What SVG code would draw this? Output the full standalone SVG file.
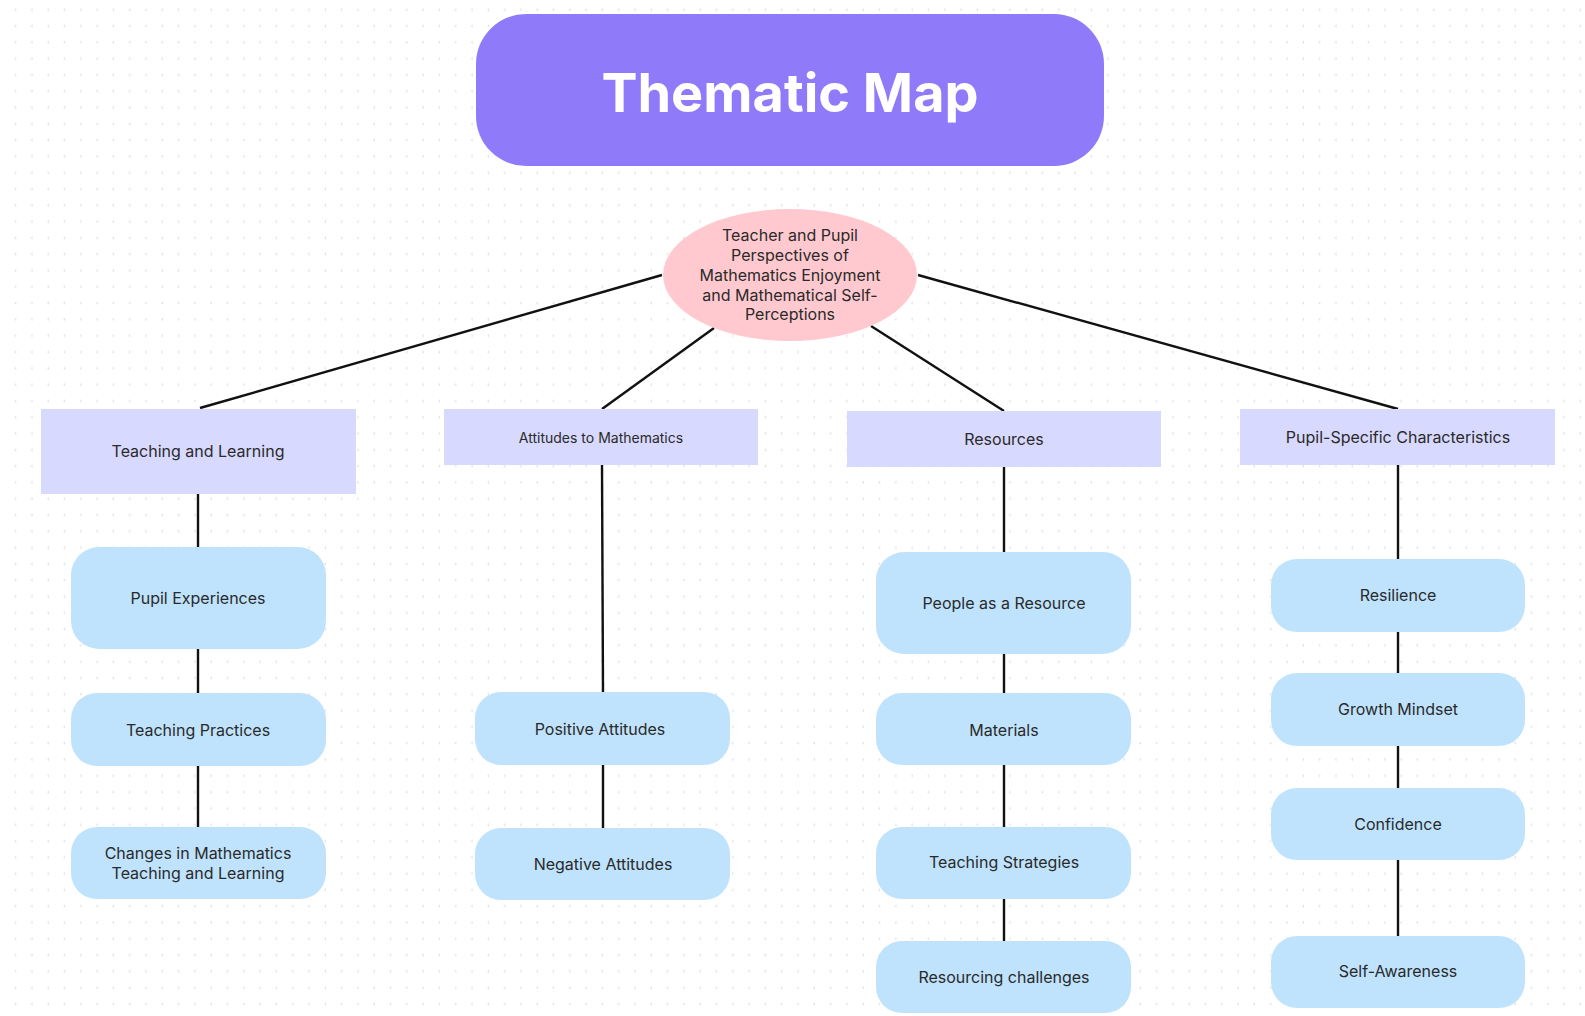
<svg xmlns="http://www.w3.org/2000/svg" width="1585" height="1016" viewBox="0 0 1585 1016">
<defs>
<pattern id="dots" x="0" y="0" width="16.3" height="16.3" patternUnits="userSpaceOnUse">
<path d="M16.3 8.2v3M14.8 9.7h3" stroke="#dcdcdc" stroke-width="1"/>
</pattern>
<style>
.t{font-family:Inter,"Noto Sans","Liberation Sans",sans-serif;fill:#2a2a2a;text-anchor:middle;dominant-baseline:central}
.s16{font-size:16px}
.s14{font-size:14px}
.l1{fill:#d8d9fe}
.l2{fill:#bfe3fd}
.c{stroke:#111;stroke-width:2.4;fill:none}
</style>
</defs>
<rect width="1585" height="1016" fill="#ffffff"/>
<rect width="1585" height="1016" fill="url(#dots)"/>

<g id="connectors">
<line class="c" x1="662" y1="275" x2="200" y2="408"/>
<line class="c" x1="714" y1="328" x2="602" y2="409"/>
<line class="c" x1="871" y1="326" x2="1004" y2="411"/>
<line class="c" x1="918" y1="275" x2="1398" y2="409"/>
<line class="c" x1="198" y1="494" x2="198" y2="547"/>
<line class="c" x1="198" y1="649" x2="198" y2="693"/>
<line class="c" x1="198" y1="766" x2="198" y2="827"/>
<line class="c" x1="602" y1="465" x2="603" y2="692"/>
<line class="c" x1="603" y1="765" x2="603" y2="828"/>
<line class="c" x1="1004" y1="467" x2="1004" y2="552"/>
<line class="c" x1="1004" y1="654" x2="1004" y2="693"/>
<line class="c" x1="1004" y1="765" x2="1004" y2="827"/>
<line class="c" x1="1004" y1="899" x2="1004" y2="941"/>
<line class="c" x1="1398" y1="465" x2="1398" y2="559"/>
<line class="c" x1="1398" y1="632" x2="1398" y2="673"/>
<line class="c" x1="1398" y1="746" x2="1398" y2="788"/>
<line class="c" x1="1398" y1="860" x2="1398" y2="936"/>
</g>

<g id="title">
<rect x="476" y="14" width="628" height="152" rx="50" fill="#8f7bf9"/>
<text x="790" y="92" font-family="Inter,'Noto Sans','Liberation Sans',sans-serif" font-size="54" font-weight="700" fill="#ffffff" text-anchor="middle" dominant-baseline="central">Thematic Map</text>
</g>

<g id="central">
<ellipse cx="790" cy="275" rx="127" ry="66" fill="#ffc9cf"/>
<text class="t s16"><tspan x="790" y="235">Teacher and Pupil</tspan><tspan x="790" y="255">Perspectives of</tspan><tspan x="790" y="275">Mathematics Enjoyment</tspan><tspan x="790" y="295">and Mathematical Self-</tspan><tspan x="790" y="314">Perceptions</tspan></text>
</g>

<g id="teaching-learning">
<rect class="l1" x="41" y="409" width="315" height="85"/>
<text class="t s16" x="198" y="451">Teaching and Learning</text>
</g>
<g id="attitudes">
<rect class="l1" x="444" y="409" width="314" height="56"/>
<text class="t s14" x="601" y="437">Attitudes to Mathematics</text>
</g>
<g id="resources">
<rect class="l1" x="847" y="411" width="314" height="56"/>
<text class="t s16" x="1004" y="439">Resources</text>
</g>
<g id="pupil-specific">
<rect class="l1" x="1240" y="409" width="315" height="56"/>
<text class="t s16" x="1398" y="437">Pupil-Specific Characteristics</text>
</g>

<g id="pupil-experiences">
<rect class="l2" x="71" y="547" width="255" height="102" rx="28"/>
<text class="t s16" x="198" y="598">Pupil Experiences</text>
</g>
<g id="teaching-practices">
<rect class="l2" x="71" y="693" width="255" height="73" rx="26"/>
<text class="t s16" x="198" y="730">Teaching Practices</text>
</g>
<g id="changes">
<rect class="l2" x="71" y="827" width="255" height="72" rx="26"/>
<text class="t s16"><tspan x="198" y="853">Changes in Mathematics</tspan><tspan x="198" y="873">Teaching and Learning</tspan></text>
</g>

<g id="positive-attitudes">
<rect class="l2" x="475" y="692" width="255" height="73" rx="26"/>
<text class="t s16" x="600" y="729">Positive Attitudes</text>
</g>
<g id="negative-attitudes">
<rect class="l2" x="475" y="828" width="255" height="72" rx="26"/>
<text class="t s16" x="603" y="864">Negative Attitudes</text>
</g>

<g id="people-resource">
<rect class="l2" x="876" y="552" width="255" height="102" rx="28"/>
<text class="t s16" x="1004" y="603">People as a Resource</text>
</g>
<g id="materials">
<rect class="l2" x="876" y="693" width="255" height="72" rx="26"/>
<text class="t s16" x="1004" y="730">Materials</text>
</g>
<g id="teaching-strategies">
<rect class="l2" x="876" y="827" width="255" height="72" rx="26"/>
<text class="t s16" x="1004" y="862">Teaching Strategies</text>
</g>
<g id="resourcing-challenges">
<rect class="l2" x="876" y="941" width="255" height="72" rx="26"/>
<text class="t s16" x="1004" y="977">Resourcing challenges</text>
</g>

<g id="resilience">
<rect class="l2" x="1271" y="559" width="254" height="73" rx="26"/>
<text class="t s16" x="1398" y="595">Resilience</text>
</g>
<g id="growth-mindset">
<rect class="l2" x="1271" y="673" width="254" height="73" rx="26"/>
<text class="t s16" x="1398" y="709">Growth Mindset</text>
</g>
<g id="confidence">
<rect class="l2" x="1271" y="788" width="254" height="72" rx="26"/>
<text class="t s16" x="1398" y="824">Confidence</text>
</g>
<g id="self-awareness">
<rect class="l2" x="1271" y="936" width="254" height="72" rx="26"/>
<text class="t s16" x="1398" y="971">Self-Awareness</text>
</g>
</svg>
